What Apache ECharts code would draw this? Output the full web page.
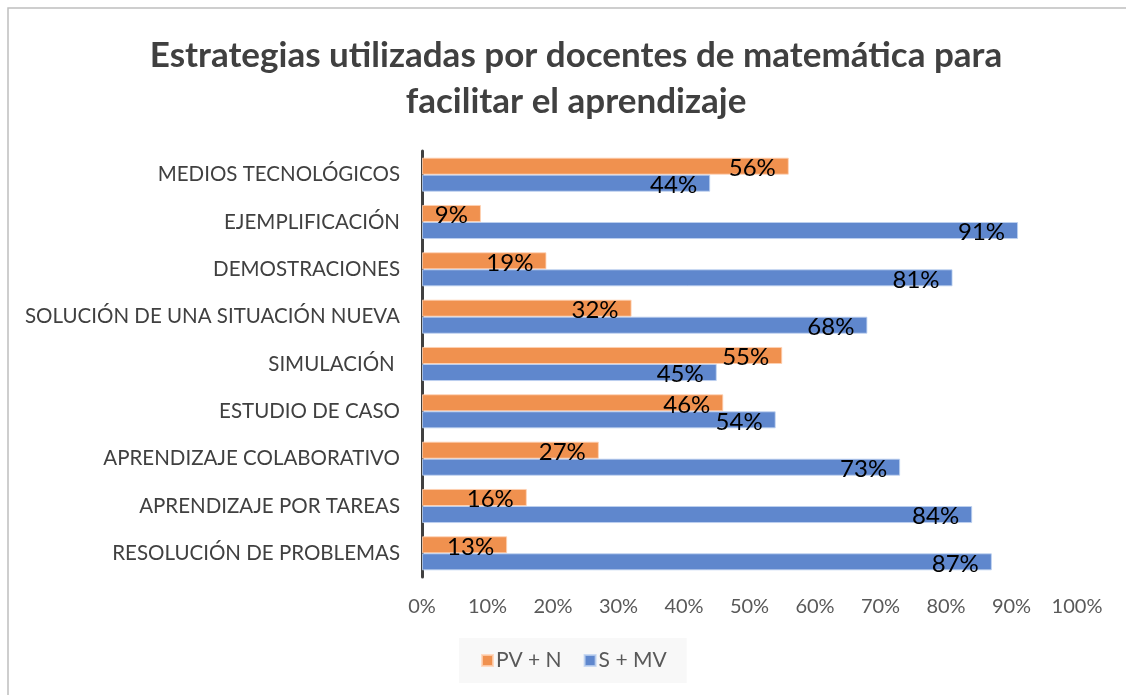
<!DOCTYPE html>
<html>
<head>
<meta charset="utf-8">
<script src="https://cdn.jsdelivr.net/npm/echarts@6/dist/echarts.min.js"></script>
<style>
html,body{margin:0;padding:0;background:#fff;}
#chart{width:1126px;height:695px;}
</style>
</head>
<body>
<div id="chart"></div>
<script>
const categories = [
  "MEDIOS TECNOLÓGICOS",
  "EJEMPLIFICACIÓN",
  "DEMOSTRACIONES",
  "SOLUCIÓN DE UNA SITUACIÓN NUEVA",
  "SIMULACIÓN ",
  "ESTUDIO DE CASO",
  "APRENDIZAJE COLABORATIVO",
  "APRENDIZAJE POR TAREAS",
  "RESOLUCIÓN DE PROBLEMAS"
];
const pvN = [56, 9, 19, 32, 55, 46, 27, 16, 13];
const sMV = [44, 91, 81, 68, 45, 54, 73, 84, 87];
const seriesNames = ["PV + N", "S + MV"];
const titleText = "Estrategias utilizadas por docentes de matemática para\nfacilitar el aprendizaje";

const FONT = "Lato";
const chart = echarts.init(document.getElementById('chart'), null, {renderer: 'canvas'});
const labelCfg = {
  show: true,
  position: 'insideRight',
  distance: 13,
  formatter: '{c}%',
  color: '#000',
  fontFamily: FONT,
  fontSize: 24,
  offset: [0, 2]
};
chart.setOption({
  animation: false,
  backgroundColor: '#fff',
  graphic: [{
    type: 'rect',
    shape: {x: 8, y: 8, width: 1300, height: 900},
    style: {fill: 'none', stroke: '#bfbfbf', lineWidth: 1.5},
    silent: true
  }],
  title: {
    text: titleText,
    left: 571,
    top: 28,
    textAlign: 'center',
    textStyle: {
      fontFamily: FONT,
      fontWeight: 'bold',
      fontSize: 35,
      lineHeight: 46,
      color: '#404040'
    }
  },
  legend: {
    data: seriesNames,
    left: 459,
    top: 638,
    backgroundColor: '#f8f8f8',
    padding: [12, 20, 12, 22],
    icon: 'rect',
    itemWidth: 11,
    itemHeight: 11,
    itemGap: 22,
    textStyle: {fontFamily: FONT, fontSize: 21, color: '#595959', padding: [0, 0, 0, -2]}
  },
  grid: {left: 422, right: 49, top: 151, bottom: 118, containLabel: false},
  xAxis: {
    type: 'value',
    min: 0,
    max: 100,
    interval: 10,
    axisLine: {show: false},
    axisTick: {show: false},
    splitLine: {show: false},
    axisLabel: {formatter: '{value}%', color: '#595959', fontFamily: FONT, fontSize: 20, margin: 20}
  },
  yAxis: {
    type: 'category',
    data: categories,
    inverse: true,
    axisLine: {show: true, lineStyle: {color: '#404040', width: 3}},
    axisTick: {show: false},
    axisLabel: {color: '#404040', fontFamily: FONT, fontSize: 20.5, margin: 22}
  },
  series: [
    {
      name: seriesNames[0],
      type: 'bar',
      data: pvN,
      barGap: '0%',
      barCategoryGap: '28%',
      itemStyle: {color: '#F0914F', borderColor: 'rgba(255,210,180,0.8)', borderWidth: 1},
      label: labelCfg
    },
    {
      name: seriesNames[1],
      type: 'bar',
      data: sMV,
      barGap: '0%',
      barCategoryGap: '28%',
      itemStyle: {color: '#5F87CD', borderColor: 'rgba(190,210,240,0.8)', borderWidth: 1},
      label: labelCfg
    }
  ]
});
</script>
</body>
</html>
